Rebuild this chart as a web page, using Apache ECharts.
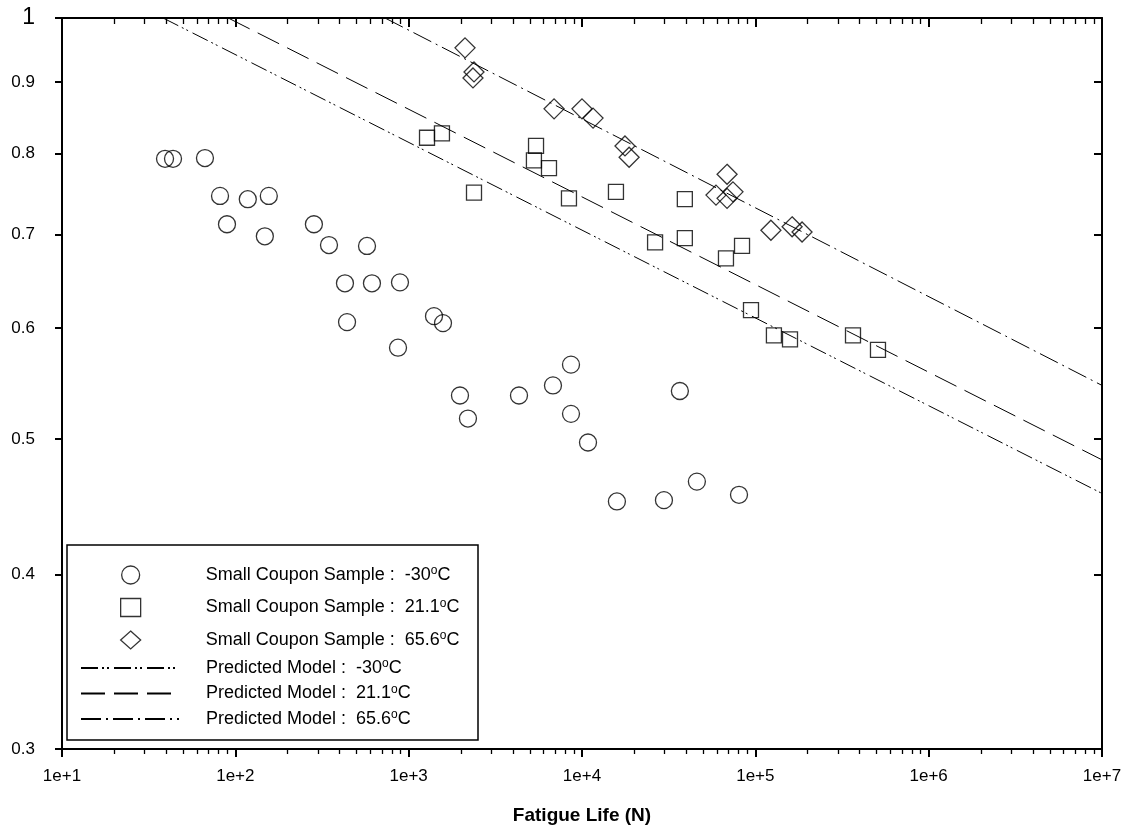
<!DOCTYPE html>
<html>
<head>
<meta charset="utf-8">
<script src="https://cdn.jsdelivr.net/npm/echarts@6/dist/echarts.min.js"></script>
<style>
  html, body { margin: 0; padding: 0; background: #fff; }
  #chart { width: 1128px; height: 833px; }
</style>
</head>
<body>
<div id="chart"></div>
<script>
// Fatigue life (N) vs stress ratio for small coupon samples at three temperatures

// Small coupon samples, -30 °C: [N, S]
const coupons30 = [
  [39.3, 0.793], [43.7, 0.793], [66.8, 0.794], [81.6, 0.746], [89.5, 0.712],
  [118, 0.742], [156, 0.746], [148, 0.698], [284, 0.712], [347, 0.688],
  [575, 0.687], [429, 0.646], [614, 0.646], [891, 0.647], [441, 0.606],
  [1400, 0.612], [1578, 0.605], [868, 0.581], [1977, 0.537], [2198, 0.517],
  [4330, 0.537], [6800, 0.546], [8640, 0.565], [8640, 0.521], [10830, 0.497],
  [15900, 0.451], [29700, 0.452], [36700, 0.541], [46000, 0.466], [80500, 0.456]
];

// Small coupon samples, 21.1 °C
const coupons21 = [
  [1276, 0.821], [1556, 0.827], [2382, 0.750], [5430, 0.810], [5280, 0.791],
  [6450, 0.781], [8410, 0.743], [15700, 0.751], [26400, 0.691], [39200, 0.742],
  [39200, 0.696], [67700, 0.673], [83800, 0.687], [94400, 0.618], [128000, 0.593],
  [158500, 0.589], [366000, 0.593], [510000, 0.579]
];

// Small coupon samples, 65.6 °C
const coupons65 = [
  [2114, 0.952], [2382, 0.915], [2350, 0.906], [6900, 0.861], [10000, 0.861],
  [11580, 0.848], [17700, 0.810], [18700, 0.795], [68700, 0.773], [59300, 0.747],
  [68700, 0.743], [74300, 0.751], [123000, 0.705], [163000, 0.709], [186000, 0.703]
];

// Predicted model lines (power law, straight on log-log axes): end points
const model30 = [[38.3, 1.0], [1e7, 0.457]];
const model21 = [[91, 1.0], [1e7, 0.483]];
const model65 = [[730, 1.0], [1e7, 0.546]];

// Axis ticks and labels
const xMajorTicks = [1e1, 1e2, 1e3, 1e4, 1e5, 1e6, 1e7];
const xTickLabels = ['1e+1', '1e+2', '1e+3', '1e+4', '1e+5', '1e+6', '1e+7'];
const xMinorMultipliers = [2, 3, 4, 5, 6, 7, 8, 9];
const yTicks = [0.3, 0.4, 0.5, 0.6, 0.7, 0.8, 0.9, 1];
const yTickLabels = ['0.3', '0.4', '0.5', '0.6', '0.7', '0.8', '0.9', '1'];

const xMinorTicks = [];
xMajorTicks.slice(0, -1).forEach(function (d) {
  xMinorMultipliers.forEach(function (m) { xMinorTicks.push(d * m); });
});

const FONT = 'Arial, "Liberation Sans", sans-serif';

const names = {
  s30: 'Small Coupon Sample : -30°C',
  s21: 'Small Coupon Sample : 21.1°C',
  s65: 'Small Coupon Sample : 65.6°C',
  m30: 'Predicted Model : -30°C',
  m21: 'Predicted Model : 21.1°C',
  m65: 'Predicted Model : 65.6°C'
};
// legend text: prefix and temperature, degree sign drawn as a raised "o"
const legendText = {};
legendText[names.s30] = ['Small Coupon Sample :  ', '-30'];
legendText[names.s21] = ['Small Coupon Sample :  ', '21.1'];
legendText[names.s65] = ['Small Coupon Sample :  ', '65.6'];
legendText[names.m30] = ['Predicted Model :  ', '-30'];
legendText[names.m21] = ['Predicted Model :  ', '21.1'];
legendText[names.m65] = ['Predicted Model :  ', '65.6'];

function legendFormatter(gapKey) {
  return function (name) {
    const p = legendText[name];
    return '{' + gapKey + '|}{t|' + p[0] + p[1] + '}{sup|o}{t|C}';
  };
}
const legendRich = {
  g1: { width: 60 },
  g2: { width: 22 },
  t: { fontSize: 18, fontFamily: FONT, color: '#000', lineHeight: 18 },
  sup: { fontSize: 12, fontFamily: FONT, color: '#000', padding: [0, 0, 8, 0], lineHeight: 18 }
};

function xLabel(v) {
  const i = xMajorTicks.findIndex(function (t) { return Math.abs(t - v) / t < 1e-6; });
  return i >= 0 ? xTickLabels[i] : '';
}
function yLabel(v) {
  const i = yTicks.findIndex(function (t) { return Math.abs(t - v) < 1e-6; });
  if (i < 0) return '';
  return v === 1 ? '{big|' + yTickLabels[i] + '}' : yTickLabels[i];
}

const markerStyle = { color: 'rgba(0,0,0,0)', borderColor: '#000', borderWidth: 1.3 };

const chart = echarts.init(document.getElementById('chart'), null, { renderer: 'canvas' });

chart.setOption({
  animation: false,
  backgroundColor: '#fff',
  textStyle: { fontFamily: FONT },
  grid: { left: 62, right: 26, top: 18, bottom: 84, containLabel: false },
  xAxis: [
    { // bottom: line, major ticks, labels, title
      type: 'log', logBase: 10, min: 10, max: 1e7, position: 'bottom',
      axisLine: { show: true, lineStyle: { color: '#000', width: 2 } },
      axisTick: { show: true, inside: false, length: 8, lineStyle: { color: '#000', width: 2 }, customValues: xMajorTicks },
      axisLabel: { show: true, customValues: xMajorTicks, formatter: xLabel, fontSize: 17, color: '#000', fontFamily: FONT, margin: 19 },
      splitLine: { show: false },
      name: 'Fatigue Life (N)', nameLocation: 'middle', nameGap: 57,
      nameTextStyle: { fontSize: 19, fontWeight: 'bold', color: '#000', fontFamily: FONT }
    },
    { // bottom: minor ticks
      type: 'log', logBase: 10, min: 10, max: 1e7, position: 'bottom',
      axisLine: { show: false },
      axisTick: { show: true, inside: false, length: 5, lineStyle: { color: '#000', width: 1.3 }, customValues: xMinorTicks },
      axisLabel: { show: false }, splitLine: { show: false }
    },
    { // top: line and major ticks
      type: 'log', logBase: 10, min: 10, max: 1e7, position: 'top',
      axisLine: { show: true, lineStyle: { color: '#000', width: 2 } },
      axisTick: { show: true, inside: true, length: 9, lineStyle: { color: '#000', width: 2 }, customValues: xMajorTicks },
      axisLabel: { show: false }, splitLine: { show: false }
    },
    { // top: minor ticks
      type: 'log', logBase: 10, min: 10, max: 1e7, position: 'top',
      axisLine: { show: false },
      axisTick: { show: true, inside: true, length: 6, lineStyle: { color: '#000', width: 1.3 }, customValues: xMinorTicks },
      axisLabel: { show: false }, splitLine: { show: false }
    }
  ],
  yAxis: [
    {
      type: 'log', logBase: 10, min: 0.3, max: 1, position: 'left',
      axisLine: { show: true, lineStyle: { color: '#000', width: 2 } },
      axisTick: { show: true, inside: false, length: 7, lineStyle: { color: '#000', width: 2 }, customValues: yTicks },
      axisLabel: {
        show: true, customValues: yTicks, formatter: yLabel, fontSize: 17, color: '#000', fontFamily: FONT, margin: 27,
        rich: { big: { fontSize: 23, fontFamily: FONT, color: '#000' } }
      },
      splitLine: { show: false }
    },
    {
      type: 'log', logBase: 10, min: 0.3, max: 1, position: 'right',
      axisLine: { show: true, lineStyle: { color: '#000', width: 2 } },
      axisTick: { show: true, inside: true, length: 8, lineStyle: { color: '#000', width: 2 }, customValues: yTicks },
      axisLabel: { show: false }, splitLine: { show: false }
    }
  ],
  legend: [
    {
      data: [names.s30, names.s21, names.s65],
      orient: 'vertical', left: 120, top: 565,
      itemWidth: 20, itemHeight: 18, itemGap: 12.5,
      padding: 0, selectedMode: false,
      itemStyle: { color: 'rgba(0,0,0,0)', borderColor: '#000', borderWidth: 1.3 },
      formatter: legendFormatter('g1'),
      textStyle: { rich: legendRich, fontSize: 18, fontFamily: FONT, color: '#000', lineHeight: 18 }
    },
    {
      data: [names.m30, names.m21, names.m65],
      orient: 'vertical', left: 80, top: 658,
      itemWidth: 98, itemHeight: 14, itemGap: 5.5,
      padding: 0, selectedMode: false,
      itemStyle: { opacity: 0, color: 'rgba(0,0,0,0)', borderWidth: 0 },
      formatter: legendFormatter('g2'),
      textStyle: { rich: legendRich, fontSize: 18, fontFamily: FONT, color: '#000', lineHeight: 18 }
    }
  ],
  graphic: [
    {
      type: 'rect', z: 3, silent: true,
      shape: { x: 67, y: 545, width: 411, height: 195 },
      style: { fill: '#fff', stroke: '#000', lineWidth: 1.5 }
    }
  ],
  series: [
    {
      name: names.s30, type: 'scatter', data: coupons30, symbol: 'circle', symbolSize: 17,
      itemStyle: markerStyle, emphasis: { disabled: true }
    },
    {
      name: names.s21, type: 'scatter', data: coupons21, symbol: 'rect', symbolSize: 15,
      itemStyle: markerStyle, emphasis: { disabled: true }
    },
    {
      name: names.s65, type: 'scatter', data: coupons65, symbol: 'diamond', symbolSize: 20,
      itemStyle: markerStyle, emphasis: { disabled: true }
    },
    {
      name: names.m30, type: 'line', data: model30, symbol: 'none', showSymbol: false, color: '#000',
      lineStyle: { color: '#000', width: 1, type: [17, 4, 2, 3, 2, 5] }, emphasis: { disabled: true }
    },
    {
      name: names.m21, type: 'line', data: model21, symbol: 'none', showSymbol: false, color: '#000',
      lineStyle: { color: '#000', width: 1, type: [24, 9] }, emphasis: { disabled: true }
    },
    {
      name: names.m65, type: 'line', data: model65, symbol: 'none', showSymbol: false, color: '#000',
      lineStyle: { color: '#000', width: 1, type: [20, 5, 2, 5] }, emphasis: { disabled: true }
    }
  ]
});
</script>
</body>
</html>
